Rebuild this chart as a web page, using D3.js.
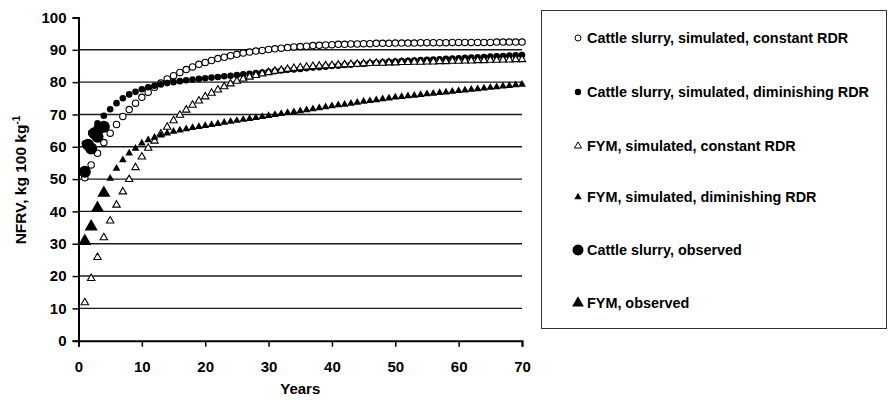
<!DOCTYPE html>
<html><head><meta charset="utf-8">
<script src="https://cdn.jsdelivr.net/npm/d3@7"></script>
<style>
html,body{margin:0;padding:0;background:#fff;}
svg text{font-family:"Liberation Sans",Arial,sans-serif;font-weight:bold;fill:#000;}
</style></head>
<body>
<svg id="chart" width="888" height="401"></svg>
<script>
const years = d3.range(1, 71);
const csConst = [50.4,54.4,58.0,61.3,64.2,66.9,69.4,71.5,73.5,75.3,
76.9,78.4,79.7,81.0,82.0,83.0,83.9,84.7,85.5,86.1,
86.7,87.3,87.7,88.2,88.6,89.0,89.3,89.6,89.8,90.1,
90.3,90.5,90.7,90.9,91.0,91.1,91.3,91.4,91.5,91.6,
91.7,91.7,91.8,91.8,91.9,91.9,92.0,92.0,92.0,92.1,
92.1,92.1,92.1,92.2,92.2,92.2,92.2,92.2,92.3,92.3,
92.3,92.3,92.3,92.3,92.3,92.4,92.4,92.4,92.4,92.4];
const csDim = [61.0,64.3,67.3,69.6,71.6,73.5,75.0,76.2,77.0,77.8,
78.4,78.9,79.3,79.7,80.0,80.3,80.6,80.8,81.0,81.2,
81.4,81.6,81.8,82.0,82.2,82.4,82.6,82.8,83.0,83.2,
83.4,83.6,83.8,83.9,84.1,84.3,84.5,84.6,84.8,85.0,
85.1,85.3,85.4,85.6,85.7,85.9,86.0,86.1,86.3,86.4,
86.5,86.6,86.7,86.8,86.9,87.0,87.1,87.2,87.3,87.4,
87.5,87.6,87.7,87.8,87.9,88.0,88.1,88.2,88.3,88.4];
const fymConst = [11.8,19.3,25.8,31.9,37.1,42.0,46.1,49.9,53.6,56.9,
59.6,61.8,64.0,66.1,68.1,69.8,71.4,72.9,74.2,75.5,
76.6,77.6,78.6,79.5,80.3,81.0,81.6,82.1,82.6,83.0,
83.4,83.7,84.0,84.3,84.5,84.7,84.9,85.0,85.1,85.2,
85.3,85.4,85.5,85.6,85.7,85.8,85.9,85.9,86.0,86.0,
86.1,86.1,86.2,86.2,86.3,86.3,86.4,86.4,86.5,86.5,
86.6,86.6,86.7,86.7,86.8,86.8,86.9,86.9,87.0,87.0];
const fymDim = [31.0,35.8,40.8,45.8,50.2,53.3,55.9,58.0,59.5,61.1,
62.1,62.9,63.6,64.2,64.7,65.1,65.5,65.9,66.2,66.5,
66.8,67.1,67.5,67.8,68.1,68.4,68.7,69.0,69.3,69.6,
69.9,70.2,70.5,70.8,71.1,71.4,71.7,72.0,72.3,72.6,
72.9,73.1,73.4,73.7,74.0,74.2,74.5,74.8,75.0,75.3,
75.5,75.7,75.9,76.1,76.3,76.5,76.7,76.9,77.1,77.3,
77.5,77.7,77.9,78.1,78.3,78.5,78.7,78.9,79.1,79.3];
const csObsYears = [1, 1.5, 2, 2.5, 3, 3.3, 4];
const csObsValues = [52.3, 60.6, 59.5, 64.2, 63.1, 65.7, 66.2];
const fymObsYears = [1, 2, 3, 4];
const fymObsValues = [30.8, 35.3, 41.0, 45.7];
const xTicks = [0,10,20,30,40,50,60,70];
const yTicks = [0,10,20,30,40,50,60,70,80,90,100];
const legendLabels = [
  "Cattle slurry, simulated, constant RDR",
  "Cattle slurry, simulated, diminishing RDR",
  "FYM, simulated, constant RDR",
  "FYM, simulated, diminishing RDR",
  "Cattle slurry, observed",
  "FYM, observed"
];

const svg = d3.select("#chart");
const x = d3.scaleLinear().domain([0,70]).range([78.5,522]);
const y = d3.scaleLinear().domain([0,100]).range([340.7,17.5]);

// gridlines
svg.append("g").selectAll("line").data(yTicks.filter(d=>d>0 && d<100)).join("line")
  .attr("x1", x(0)).attr("x2", x(70)).attr("y1", d=>y(d)).attr("y2", d=>y(d))
  .attr("stroke", "#1a1a1a").attr("stroke-width", 1.4);

// axes
const yAxis = d3.axisLeft(y).tickValues(yTicks).tickSize(6).tickPadding(6);
const gy = svg.append("g").attr("transform", `translate(${x(0)},0)`).call(yAxis);
gy.select(".domain").attr("stroke","#000").attr("stroke-width",2);
gy.selectAll(".tick line").attr("stroke","#000").attr("stroke-width",1.5);
gy.selectAll(".tick text").style("font-size","15px").style("font-family","'Liberation Sans',Arial,sans-serif").style("font-weight","bold");

const xAxis = d3.axisBottom(x).tickValues(xTicks).tickSize(6).tickPadding(15);
const gx = svg.append("g").attr("transform", `translate(0,${y(0)})`).call(xAxis);
gx.select(".domain").attr("stroke","#000").attr("stroke-width",2);
gx.selectAll(".tick line").attr("stroke","#000").attr("stroke-width",1.5);
gx.selectAll(".tick text").style("font-size","15px").style("font-family","'Liberation Sans',Arial,sans-serif").style("font-weight","bold");

// axis titles
svg.append("text").attr("x", x(35)).attr("y", 394).attr("text-anchor","middle")
  .style("font-size","15px").text("Years");
const yt = svg.append("text").attr("transform","translate(26,180) rotate(-90)")
  .attr("text-anchor","middle").style("font-size","15.5px");
yt.append("tspan").text("NFRV, kg 100 kg");
yt.append("tspan").attr("dy",-6).style("font-size","10px").text("-1");

const tri = (size) => d3.symbol().type(d3.symbolTriangle).size(size)();

const plot = svg.append("g");
function pts(vals, yrs){ return vals.map((v,i)=>({x: yrs[i], y: v})); }

// CS constant: open circles
plot.append("g").selectAll("circle").data(pts(csConst, years)).join("circle")
  .attr("cx", d=>x(d.x)).attr("cy", d=>y(d.y)).attr("r", 3.2)
  .attr("fill","#fff").attr("stroke","#000").attr("stroke-width",1.1);
// CS diminishing: filled circles
plot.append("g").selectAll("circle").data(pts(csDim, years)).join("circle")
  .attr("cx", d=>x(d.x)).attr("cy", d=>y(d.y)).attr("r", 3.3)
  .attr("fill","#000");
// FYM constant: open triangles
plot.append("g").selectAll("path").data(pts(fymConst, years)).join("path")
  .attr("d", tri(24)).attr("transform", d=>`translate(${x(d.x)},${y(d.y)})`)
  .attr("fill","#fff").attr("stroke","#000").attr("stroke-width",1.1);
// FYM diminishing: filled triangles
plot.append("g").selectAll("path").data(pts(fymDim, years)).join("path")
  .attr("d", tri(26)).attr("transform", d=>`translate(${x(d.x)},${y(d.y)})`)
  .attr("fill","#000");
// observed
plot.append("g").selectAll("circle").data(pts(csObsValues, csObsYears)).join("circle")
  .attr("cx", d=>x(d.x)).attr("cy", d=>y(d.y)).attr("r", 6)
  .attr("fill","#000");
plot.append("g").selectAll("path").data(pts(fymObsValues, fymObsYears)).join("path")
  .attr("d", tri(75)).attr("transform", d=>`translate(${x(d.x)},${y(d.y)})`)
  .attr("fill","#000");

// legend
const lg = svg.append("g");
lg.append("rect").attr("x",541.5).attr("y",10.5).attr("width",345).attr("height",318)
  .attr("fill","#fff").attr("stroke","#333").attr("stroke-width",1);
const ly = [38, 92, 146, 197, 250, 303];
legendLabels.forEach((lab,i)=>{
  const g = lg.append("g").attr("transform",`translate(578,${ly[i]})`);
  if(i===0) g.append("circle").attr("r",3).attr("fill","#fff").attr("stroke","#000").attr("stroke-width",1);
  if(i===1) g.append("circle").attr("r",3.2).attr("fill","#000");
  if(i===2) g.append("path").attr("d",tri(22)).attr("fill","#fff").attr("stroke","#000").attr("stroke-width",1);
  if(i===3) g.append("path").attr("d",tri(24)).attr("fill","#000");
  if(i===4) g.append("circle").attr("r",5.5).attr("fill","#000");
  if(i===5) g.append("path").attr("d",tri(60)).attr("fill","#000");
  g.append("text").attr("x", 9).attr("dy","0.35em").style("font-size","14.4px").text(lab);
});
</script>
</body></html>
